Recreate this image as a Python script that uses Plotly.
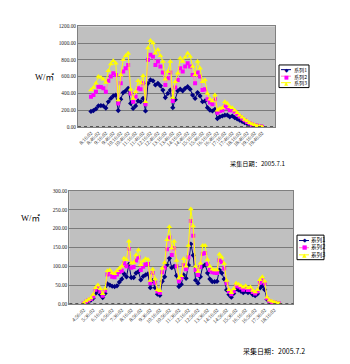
import plotly.graph_objects as go
from datetime import datetime, timedelta

# ---- 2005-07-01 (upper chart): irradiance readings every 10 minutes ----
day1_start = "8:16:02"
day1_s1 = [185, 195, 215, 250, 255, 250, 225, 300, 340, 370, 380, 195, 330, 410, 430, 460,
           280, 220, 250, 310, 300, 340, 190, 520, 560, 550, 500, 520, 490, 440, 350, 400,
           440, 230, 325, 430, 450, 430, 460, 480, 450, 380, 340, 410, 370, 300, 310, 230,
           200, 190, 210, 100, 120, 130, 140, 140, 120, 130, 110, 95, 80, 65, 50, 40, 30,
           22, 15, 10, 5, 2]
day1_s2 = [360, 380, 420, 480, 475, 460, 420, 550, 600, 640, 620, 280, 520, 660, 700, 740,
           400, 300, 360, 460, 450, 520, 270, 800, 860, 840, 740, 780, 720, 650, 500, 580,
           650, 310, 470, 560, 700, 660, 720, 760, 720, 620, 520, 650, 600, 440, 450, 330,
           290, 270, 330, 170, 190, 200, 250, 230, 200, 200, 180, 150, 125, 100, 80, 60, 45,
           30, 22, 13, 7, 2]
day1_s3 = [440, 470, 520, 600, 590, 570, 530, 670, 750, 790, 760, 320, 620, 800, 850, 880,
           450, 340, 420, 550, 520, 610, 300, 940, 1030, 1000, 880, 920, 850, 780, 570, 660,
           780, 350, 540, 640, 820, 780, 830, 880, 840, 720, 620, 780, 700, 540, 560, 400,
           330, 310, 380, 200, 220, 230, 300, 280, 240, 230, 200, 170, 140, 115, 90, 70, 50,
           35, 25, 15, 8, 3]

# ---- 2005-07-02 (lower chart) ----
day2_start = "4:56:02"
day2_s1 = [0, 3, 8, 10, 15, 28, 35, 25, 17, 28, 53, 50, 47, 46, 48, 58, 66, 80, 72, 105,
           70, 70, 82, 86, 64, 73, 77, 80, 43, 62, 43, 26, 23, 60, 72, 104, 121, 96, 100, 75,
           46, 52, 77, 68, 103, 159, 129, 63, 55, 72, 100, 104, 82, 66, 59, 59, 60, 90, 82,
           66, 37, 25, 18, 28, 40, 37, 34, 30, 34, 30, 31, 25, 22, 27, 42, 48, 38, 12, 6, 4,
           3, 2, 1]
day2_s2 = [1, 6, 10, 13, 20, 38, 44, 33, 22, 36, 78, 80, 72, 71, 78, 85, 88, 108, 100, 146,
           96, 98, 115, 123, 90, 99, 105, 106, 55, 82, 56, 33, 30, 84, 96, 145, 176, 130, 148,
           100, 60, 68, 103, 92, 124, 220, 181, 90, 77, 98, 133, 135, 106, 90, 84, 83, 82, 116,
           111, 94, 55, 33, 26, 34, 48, 46, 43, 38, 42, 37, 39, 32, 28, 33, 56, 63, 54, 15, 8,
           5, 4, 2, 1]
day2_s3 = [2, 8, 12, 16, 25, 43, 50, 40, 27, 41, 88, 90, 82, 80, 88, 95, 100, 121, 117, 166,
           108, 110, 130, 143, 104, 114, 120, 118, 62, 92, 66, 38, 35, 95, 110, 170, 205, 148,
           166, 115, 68, 75, 120, 100, 155, 252, 207, 100, 86, 108, 155, 155, 118, 100, 92, 90,
           90, 132, 124, 107, 62, 38, 30, 40, 55, 52, 48, 44, 48, 42, 45, 36, 32, 38, 64, 72,
           60, 18, 10, 7, 5, 3, 2]

series_names = ["系列1", "系列2", "系列3"]
day1_yticks = [0, 200, 400, 600, 800, 1000, 1200]
day2_yticks = [0, 50, 100, 150, 200, 250, 300]
day1_label_step = 3
day2_label_step = 4
caption1 = "采集日期：2005.7.1"
caption2 = "采集日期：2005.7.2"
unit_label = "W/㎡"


def time_axis(start, n):
    t0 = datetime.strptime(start, "%H:%M:%S")
    out = []
    for i in range(n):
        t = t0 + timedelta(minutes=10 * i)
        out.append(f"{t.hour}:{t.minute:02d}:{t.second:02d}")
    return out


day1_x = time_axis(day1_start, len(day1_s1))
day2_x = time_axis(day2_start, len(day2_s1))

W, H = 350, 364
SERIF = "SimSun, 'Liberation Serif', 'Noto Sans CJK SC', serif"
CJK = "'Noto Sans CJK SC', SimSun, serif"

LINE_COLORS = ["#000080", "#FF80C0", "#FFFF00"]
MARK_COLORS = ["#000080", "#FF00FF", "#FFFF00"]
MARK_SYMBOLS = ["diamond", "square", "triangle-up"]
MARK_SIZES = [4, 4, 5]
LEGEND_GLYPHS = ["◆", "■", "▲"]

fig = go.Figure()

for k, ys in enumerate([day1_s1, day1_s2, day1_s3]):
    fig.add_trace(go.Scatter(x=day1_x, y=ys, name=series_names[k], mode="lines+markers",
                             xaxis="x", yaxis="y", showlegend=False,
                             line=dict(color=LINE_COLORS[k], width=1),
                             marker=dict(symbol=MARK_SYMBOLS[k], size=MARK_SIZES[k], color=MARK_COLORS[k])))
for k, ys in enumerate([day2_s1, day2_s2, day2_s3]):
    fig.add_trace(go.Scatter(x=day2_x, y=ys, name=series_names[k], mode="lines+markers",
                             xaxis="x2", yaxis="y2", showlegend=False,
                             line=dict(color=LINE_COLORS[k], width=1),
                             marker=dict(symbol=MARK_SYMBOLS[k], size=MARK_SIZES[k], color=MARK_COLORS[k])))


def px_dom(a, b):
    return [a / W, b / W]


def py_dom(top, bottom):
    return [1 - bottom / H, 1 - top / H]


common_x = dict(type="category", tickangle=-45, showgrid=False, showline=True, mirror=True,
                linecolor="#808080", linewidth=1, ticks="", zeroline=False,
                tickfont=dict(family=SERIF, size=5.3, color="#222"))
common_y = dict(showgrid=True, gridcolor="#7a7a7a", gridwidth=1.3, showline=True, mirror=True,
                linecolor="#808080", linewidth=1, zeroline=False, ticks="",
                tickformat=".2f", tickfont=dict(family=SERIF, size=5.3, color="#222"))

fig.update_layout(
    width=W, height=H, margin=dict(l=0, r=0, t=0, b=0),
    paper_bgcolor="white", plot_bgcolor="#c0c0c0", showlegend=False,
    xaxis=dict(domain=px_dom(78, 275), anchor="y",
               tickvals=day1_x[::day1_label_step], ticktext=day1_x[::day1_label_step], **common_x),
    yaxis=dict(domain=py_dom(23.7, 126), anchor="x", range=[0, 1200], tickvals=day1_yticks, **common_y),
    xaxis2=dict(domain=px_dom(69.3, 293.3), anchor="y2",
                tickvals=day2_x[::day2_label_step], ticktext=day2_x[::day2_label_step], **common_x),
    yaxis2=dict(domain=py_dom(191, 306), anchor="x2", range=[0, 300], tickvals=day2_yticks, **common_y),
)

# dotted category tick band along each horizontal axis
for xr, yr in [("x domain", "y"), ("x2 domain", "y2")]:
    fig.add_shape(type="line", xref=xr, yref=yr, x0=0, x1=1, y0=0, y1=0,
                  line=dict(color="#303030", width=1.5, dash="dot"))


def add_key(box, mid, font_size, sw, txt_x):
    """Compact series key; box=(left, top, right, bottom) in pixels, rows centred on mid."""
    l, t, r, b = box
    gap = 1.3 * font_size
    fig.add_shape(type="rect", xref="paper", yref="paper", x0=l / W, x1=r / W,
                  y0=1 - b / H, y1=1 - t / H, fillcolor="white",
                  line=dict(color="#000", width=1), layer="above")
    for k in range(3):
        ry = mid + (k - 1) * gap
        fig.add_shape(type="line", xref="paper", yref="paper", x0=sw[0] / W, x1=sw[1] / W,
                      y0=1 - ry / H, y1=1 - ry / H,
                      line=dict(color=LINE_COLORS[k], width=1), layer="above")
    glyphs = "<br>".join(f"<span style='color:{MARK_COLORS[k]}'>{LEGEND_GLYPHS[k]}</span>"
                         for k in range(3))
    fig.add_annotation(text=glyphs, x=(sw[0] + sw[1]) / 2 / W, y=1 - mid / H,
                       xref="paper", yref="paper", showarrow=False, borderpad=0,
                       xanchor="center", yanchor="middle", align="center",
                       font=dict(family="DejaVu Sans", size=font_size, color="#000"))
    fig.add_annotation(text="<br>".join(series_names), x=txt_x / W, y=1 - mid / H,
                       xref="paper", yref="paper", showarrow=False, borderpad=0,
                       xanchor="left", yanchor="middle", align="left",
                       font=dict(family=CJK, size=font_size, color="#000"))


add_key((279, 63, 309, 86), 74.4, 5.1, (281, 291), 292.5)
add_key((297, 236, 324, 261), 248.8, 5.6, (299, 309), 310)

for x, y in [(44, 75), (30, 219)]:
    fig.add_annotation(text=unit_label, x=x / W, y=1 - y / H, xref="paper", yref="paper",
                       showarrow=False, xanchor="center", yanchor="middle",
                       font=dict(family="'Liberation Serif', 'Noto Sans CJK SC', serif",
                                 size=8.5, color="#000"))

for text, x, y, s in [(caption1, 257.5, 163, 6.2), (caption2, 274, 354, 7)]:
    fig.add_annotation(text=text, x=x / W, y=1 - y / H, xref="paper", yref="paper",
                       showarrow=False, xanchor="center", yanchor="middle",
                       font=dict(family=CJK, size=s, color="#000"))

fig.write_html("out.html")
